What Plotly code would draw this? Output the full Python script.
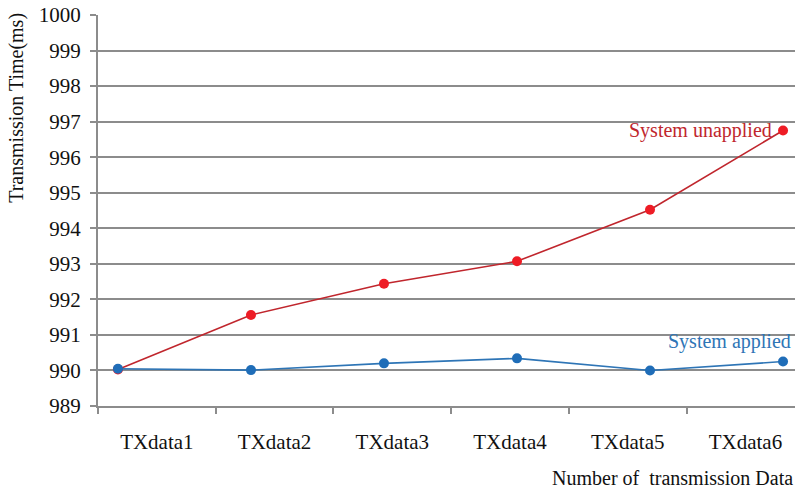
import plotly.graph_objects as go

# Transmission time per data packet (ms)
categories = ["TXdata1", "TXdata2", "TXdata3", "TXdata4", "TXdata5", "TXdata6"]
unapplied = [990.03, 991.56, 992.44, 993.07, 994.52, 996.75]
applied = [990.05, 990.01, 990.20, 990.34, 990.00, 990.25]
y_ticks = list(range(989, 1001))

FONT = "Liberation Serif, Times New Roman, serif"
RED_LINE = "#C0262D"
RED_MARK = "#EE1C25"
BLUE_LINE = "#2E75B6"
BLUE_MARK = "#1F6DB8"
GRID = "#8C8C8C"
TEXT = "#111111"

idx = list(range(len(categories)))

# category bands are narrower than the spacing between the plotted points
X_START = -0.15
BAND = 0.885
label_pos = [X_START + (k + 0.5) * BAND for k in idx]
band_edges = [X_START + k * BAND for k in range(len(categories) + 1)]

fig = go.Figure()
fig.add_trace(go.Scatter(
    x=idx, y=unapplied, mode="lines+markers",
    line=dict(color=RED_LINE, width=1.6),
    marker=dict(color=RED_MARK, size=10),
    name="System unapplied", showlegend=False,
))
fig.add_trace(go.Scatter(
    x=idx, y=applied, mode="lines+markers",
    line=dict(color=BLUE_LINE, width=1.6),
    marker=dict(color=BLUE_MARK, size=10),
    name="System applied", showlegend=False,
))

fig.update_layout(
    width=795, height=490,
    margin=dict(l=98, r=0, t=15, b=84),
    paper_bgcolor="white", plot_bgcolor="white",
    font=dict(family=FONT, size=21, color=TEXT),
    xaxis=dict(
        range=[X_START, 5.09], tickvals=label_pos, ticktext=categories,
        ticks="", ticklabelstandoff=16,
        minor=dict(tickvals=band_edges, ticks="outside", ticklen=6,
                   tickwidth=2, tickcolor=GRID, showgrid=False),
        showline=True, linecolor=GRID, linewidth=2,
        showgrid=False, zeroline=False,
        tickfont=dict(family=FONT, size=21, color=TEXT),
    ),
    yaxis=dict(
        range=[989, 1000], tickvals=y_ticks,
        ticks="outside", ticklen=6, tickwidth=2, tickcolor=GRID,
        ticklabelstandoff=5,
        showline=True, linecolor=GRID, linewidth=2,
        showgrid=True, gridcolor=GRID, gridwidth=2,
        zeroline=False, tickfont=dict(family=FONT, size=21, color=TEXT),
    ),
)

fig.add_annotation(
    x=5, y=unapplied[-1], xref="x", yref="y",
    text="System unapplied", showarrow=False,
    xanchor="right", yanchor="middle", xshift=-9,
    font=dict(family=FONT, size=20, color=RED_LINE),
)
fig.add_annotation(
    x=5, y=applied[-1], xref="x", yref="y",
    text="System applied", showarrow=False,
    xanchor="right", yanchor="middle", xshift=10, yshift=20,
    font=dict(family=FONT, size=20, color=BLUE_LINE),
)
fig.add_annotation(
    x=-0.118, y=0.762, xref="paper", yref="paper",
    text="Transmission Time(ms)", showarrow=False, textangle=-90,
    xanchor="center", yanchor="middle",
    font=dict(family=FONT, size=20, color=TEXT),
)
fig.add_annotation(
    x=1, y=0, xref="paper", yref="paper",
    text="Number of  transmission Data", showarrow=False,
    xanchor="right", yanchor="top", yshift=-59,
    font=dict(family=FONT, size=20, color=TEXT),
)

fig.write_html("out.html")
